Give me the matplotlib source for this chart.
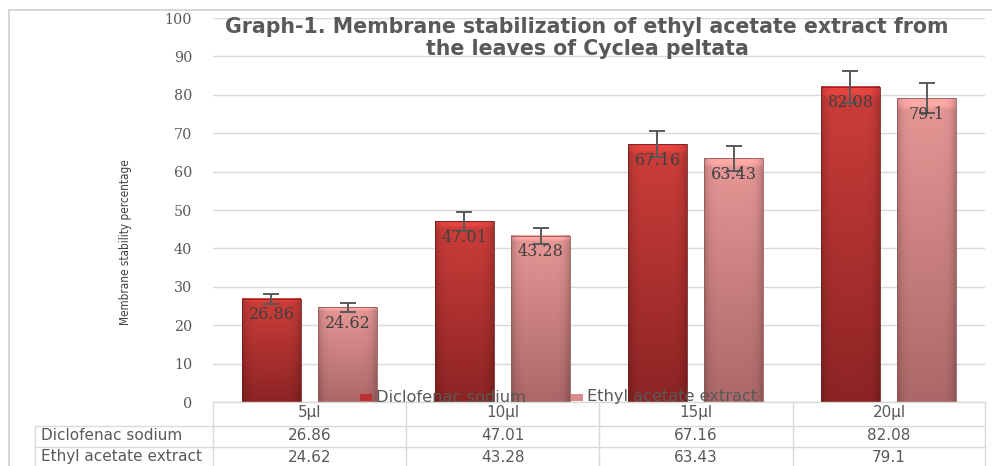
import matplotlib
matplotlib.use("Agg")
import matplotlib.pyplot as plt
import numpy as np
from matplotlib.lines import Line2D
from matplotlib.patches import Rectangle

categories = ["5µl", "10µl", "15µl", "20µl"]
series_names = ["Diclofenac sodium", "Ethyl acetate extract"]
diclofenac = [26.86, 47.01, 67.16, 82.08]
ethyl = [24.62, 43.28, 63.43, 79.1]
diclofenac_err = [1.34, 2.35, 3.36, 4.10]
ethyl_err = [1.23, 2.16, 3.17, 3.96]
yticks = [0, 10, 20, 30, 40, 50, 60, 70, 80, 90, 100]
title_lines = ["Graph-1. Membrane stabilization of ethyl acetate extract from",
               "the leaves of Cyclea peltata"]
ylabel = "Membrane stability percentage"

W, H = 992, 466
fig = plt.figure(figsize=(W / 100, H / 100), dpi=100)
fig.patch.set_facecolor("white")

def fx(px):
    return px / W

def fy(py):
    return 1 - py / H

ax_l, ax_r, ax_t, ax_b = 213, 985, 18, 402
ax = fig.add_axes([fx(ax_l), fy(ax_b), fx(ax_r - ax_l), (ax_b - ax_t) / H])
ax.set_xlim(-0.5, 3.5)
ax.set_ylim(0, 100)
for s in ax.spines.values():
    s.set_visible(False)
ax.set_yticks(yticks)
ax.set_yticklabels([str(t) for t in yticks], family="DejaVu Serif", fontsize=10.3, color="#595959")
ax.tick_params(axis="y", length=0, pad=15)
ax.set_xticks([])
ax.yaxis.grid(True, color="#D9D9D9", lw=1)
ax.set_axisbelow(True)

bw = 0.305
off = 0.197

def grad_bar(x, h, top, bot):
    n = 64
    t = np.linspace(0, 1, n)[:, None]
    top = np.array(top) / 255
    bot = np.array(bot) / 255
    col = top[None, None, :] * (1 - t[:, :, None]) + bot[None, None, :] * t[:, :, None]
    xs = np.linspace(-1, 1, 32)
    edge = 1 - 0.18 * np.abs(xs) ** 6
    img = col * edge[None, :, None]
    img = np.broadcast_to(img, (n, 32, 3)).copy()
    img[:2] = np.clip(img[:2] * 1.12, 0, 1)
    ax.imshow(img, extent=[x - bw / 2, x + bw / 2, 0, h], aspect="auto",
              interpolation="bilinear", zorder=2, origin="upper")
    ax.add_patch(Rectangle((x - bw / 2, 0), bw, h, fill=False,
                           ec=tuple(bot * 0.85), lw=0.6, zorder=2.1))

for i in range(len(categories)):
    xd = i - off
    xe = i + off
    grad_bar(xd, diclofenac[i], (205, 62, 58), (140, 36, 36))
    grad_bar(xe, ethyl[i], (230, 152, 150), (172, 104, 104))
    ax.errorbar([xd], [diclofenac[i]], yerr=[diclofenac_err[i]], fmt="none",
                ecolor="#595959", elinewidth=1.4, capsize=6, capthick=1.4, zorder=4)
    ax.errorbar([xe], [ethyl[i]], yerr=[ethyl_err[i]], fmt="none",
                ecolor="#595959", elinewidth=1.4, capsize=6, capthick=1.4, zorder=4)
    ax.annotate(f"{diclofenac[i]:g}", (xd, diclofenac[i]), xytext=(0, -11.5),
                textcoords="offset points", ha="center", va="center",
                family="DejaVu Serif", fontsize=11.5, color="#404040", zorder=5)
    ax.annotate(f"{ethyl[i]:g}", (xe, ethyl[i]), xytext=(0, -11.5),
                textcoords="offset points", ha="center", va="center",
                family="DejaVu Serif", fontsize=11.5, color="#404040", zorder=5)

ax.set_xlim(-0.5, 3.5)
ax.set_ylim(0, 100)

# title
for ty, line in zip([27, 49], title_lines):
    fig.text(fx(587), fy(ty), line, ha="center", va="center", family="DejaVu Sans",
             fontweight="bold", fontsize=14.8, color="#595959")

# y label
fig.text(fx(125), fy(242), ylabel, rotation=90, ha="center", va="center",
         family="DejaVu Sans", fontstretch="condensed", fontsize=8.4, color="#404040")

# legend (drawn over baseline area)
leg_y = 397
for lx, name, c in [(366, series_names[0], "#B83232"), (577, series_names[1], "#D98C8C")]:
    fig.patches.append(Rectangle((fx(lx - 6), fy(leg_y + 3.5)), fx(12), 7 / H,
                                 transform=fig.transFigure, fc=c, ec="none", zorder=6))
    fig.text(fx(lx + 10), fy(leg_y), name, ha="left", va="center", family="DejaVu Sans",
             fontsize=11.7, color="#595959", zorder=6)

# data table
grid_c = "#D9D9D9"
col_x = [213, 406, 599, 793, 985]

def hline(y, x0, x1):
    fig.add_artist(Line2D([fx(x0), fx(x1)], [fy(y), fy(y)], color=grid_c, lw=1))

def vline(x, y0, y1):
    fig.add_artist(Line2D([fx(x), fx(x)], [fy(y0), fy(y1)], color=grid_c, lw=1))

hline(402, 213, 985)
hline(426, 35, 985)
hline(447, 35, 985)
for x in col_x:
    vline(x, 402, 466)
vline(35, 426, 466)

tfont = dict(family="DejaVu Sans", fontsize=11, color="#595959")
for j, cat in enumerate(categories):
    cx = (col_x[j] + col_x[j + 1]) / 2
    fig.text(fx(cx), fy(413), cat, ha="center", va="center", **tfont)
    fig.text(fx(cx), fy(436), f"{diclofenac[j]:g}", ha="center", va="center", **tfont)
    fig.text(fx(cx), fy(457), f"{ethyl[j]:g}", ha="center", va="center", **tfont)
fig.text(fx(41), fy(436), series_names[0], ha="left", va="center", **tfont)
fig.text(fx(41), fy(457), series_names[1], ha="left", va="center", **tfont)

# outer chart frame
fig.add_artist(Line2D([fx(9), fx(992)], [fy(10), fy(10)], color="#D0D0D0", lw=1.2))
fig.add_artist(Line2D([fx(9), fx(9)], [fy(10), fy(466)], color="#D0D0D0", lw=1.2))

fig.savefig("out.png", dpi=100)
